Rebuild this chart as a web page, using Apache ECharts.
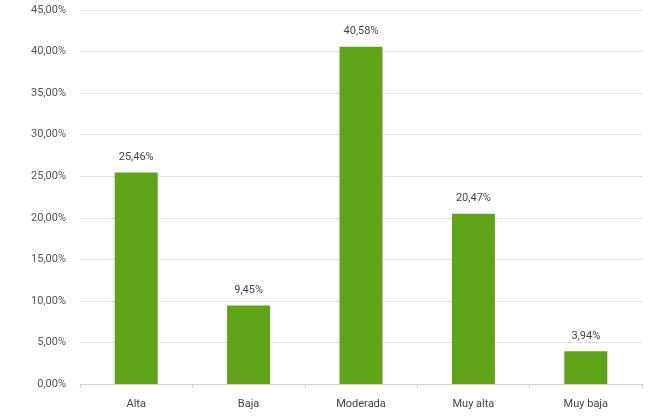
<!DOCTYPE html>
<html><head><meta charset="utf-8">
<script src="https://cdn.jsdelivr.net/npm/echarts@6/dist/echarts.min.js"></script>
<style>html,body{margin:0;padding:0;background:#fff}#c{width:650px;height:420px}</style>
</head><body><div id="c"></div>
<script>
var categories = ['Alta', 'Baja', 'Moderada', 'Muy alta', 'Muy baja'];
var values = [25.46, 9.45, 40.58, 20.47, 3.94];
var yMax = 45, yStep = 5;
function fmt(v){ return v.toFixed(2).replace('.', ',') + '%'; }
var chart = echarts.init(document.getElementById('c'), null, {renderer:'canvas'});
chart.setOption({
  animation: false,
  grid: {left: 80, right: 8, top: 10, bottom: 36, containLabel: false},
  xAxis: {
    type: 'category', data: categories,
    axisLine: {lineStyle: {color: '#d2d2d2'}},
    axisTick: {show: true, length: 4, lineStyle: {color: '#d2d2d2'}},
    axisLabel: {color: '#444', fontSize: 11, fontFamily: 'Roboto', margin: 15}
  },
  yAxis: {
    type: 'value', min: 0, max: yMax, interval: yStep,
    axisLine: {show: false}, axisTick: {show: false},
    splitLine: {lineStyle: {color: '#dadada', type: [3, 1]}},
    axisLabel: {color: '#555', fontSize: 11, fontFamily: 'Roboto', margin: 14, formatter: fmt}
  },
  series: [{
    type: 'bar', data: values, barWidth: 43,
    itemStyle: {color: '#5fa317'},
    label: {show: true, position: 'top', color: '#444', fontSize: 11, fontFamily: 'Roboto', distance: 10, formatter: function(p){ return fmt(p.value); }}
  }]
});
</script></body></html>
